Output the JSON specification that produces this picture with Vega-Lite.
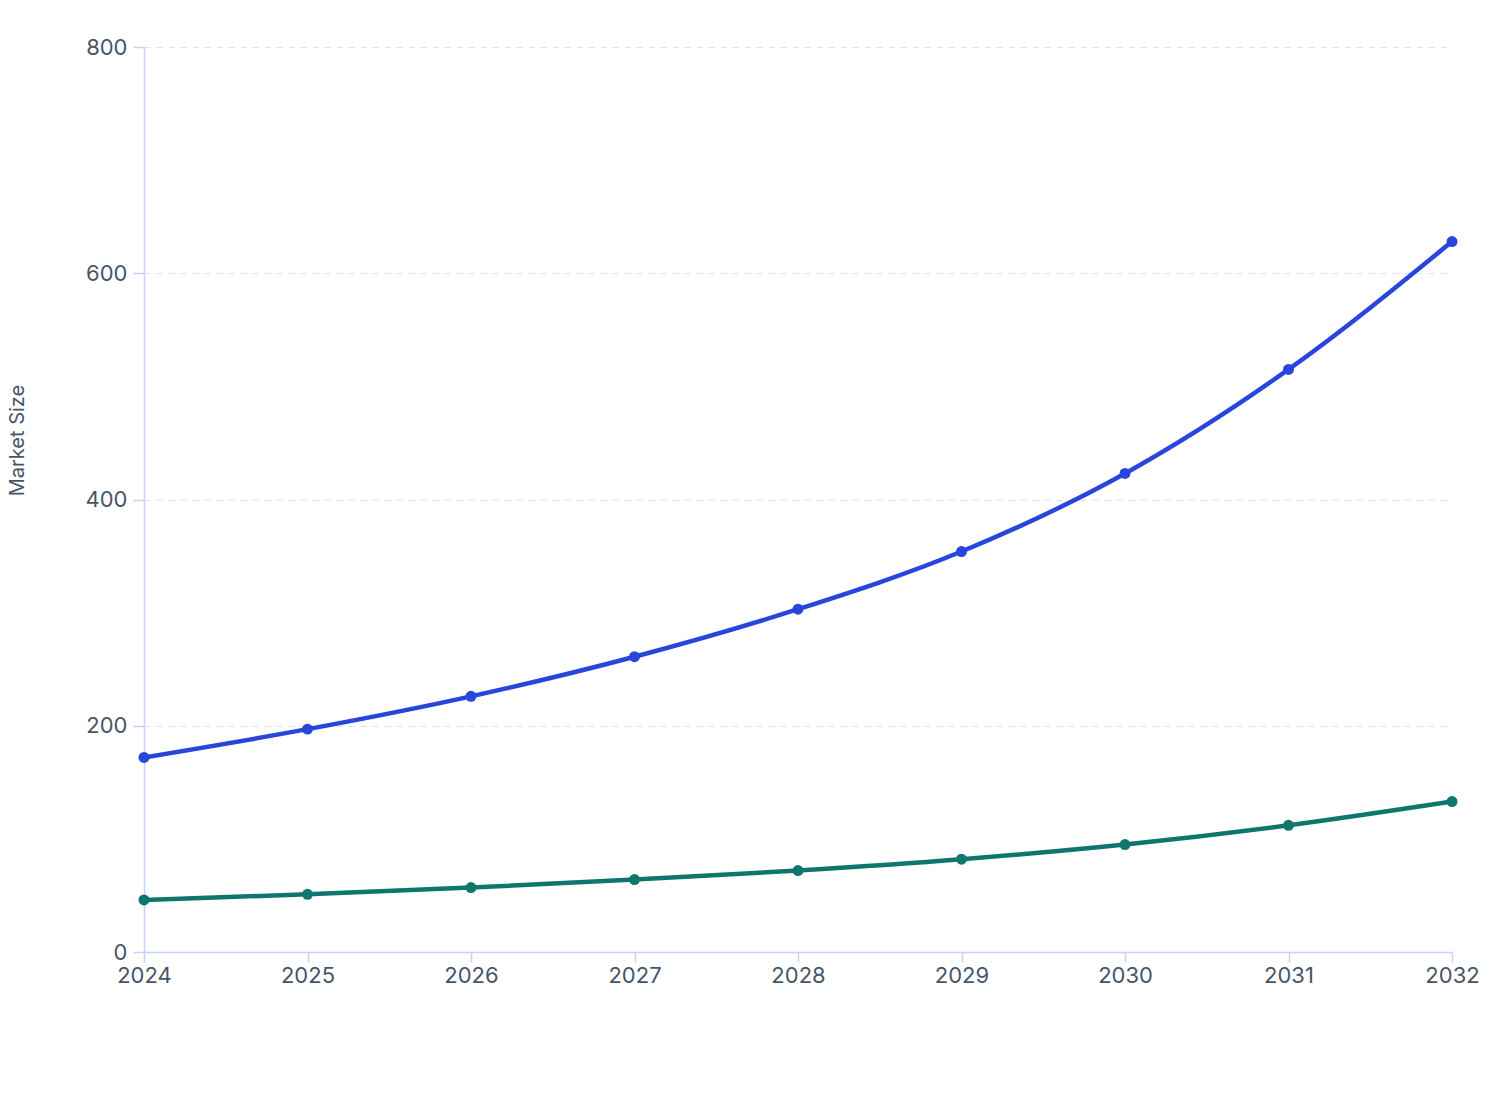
{
  "$schema": "https://vega.github.io/schema/vega-lite/v6.json",
  "autosize": {"type": "none"},
  "width": 1308,
  "height": 905,
  "padding": {"left": 144, "top": 47, "right": 56, "bottom": 168},
  "background": "#ffffff",
  "config": {
    "view": {"stroke": null},
    "font": "Inter",
    "axis": {
      "labelFont": "Inter",
      "titleFont": "Inter",
      "labelColor": "#475569",
      "titleColor": "#475569",
      "domainColor": "#c7d2fe",
      "domainWidth": 1.5,
      "tickColor": "#c7d2fe",
      "tickWidth": 1.5,
      "gridColor": "#dde3ec",
      "gridDash": [6, 6],
      "labelFontSize": 22,
      "titleFontWeight": "normal"
    }
  },
  "data": {
    "values": [
      {"year": 2024, "series": "A", "value": 172},
      {"year": 2025, "series": "A", "value": 197},
      {"year": 2026, "series": "A", "value": 226},
      {"year": 2027, "series": "A", "value": 261},
      {"year": 2028, "series": "A", "value": 303},
      {"year": 2029, "series": "A", "value": 354},
      {"year": 2030, "series": "A", "value": 423},
      {"year": 2031, "series": "A", "value": 515},
      {"year": 2032, "series": "A", "value": 628},
      {"year": 2024, "series": "B", "value": 46},
      {"year": 2025, "series": "B", "value": 51},
      {"year": 2026, "series": "B", "value": 57},
      {"year": 2027, "series": "B", "value": 64},
      {"year": 2028, "series": "B", "value": 72},
      {"year": 2029, "series": "B", "value": 82},
      {"year": 2030, "series": "B", "value": 95},
      {"year": 2031, "series": "B", "value": 112},
      {"year": 2032, "series": "B", "value": 133}
    ]
  },
  "encoding": {
    "x": {
      "field": "year",
      "type": "quantitative",
      "scale": {"domain": [2024, 2032], "nice": false, "zero": false},
      "axis": {"title": null, "values": [2024, 2025, 2026, 2027, 2028, 2029, 2030, 2031, 2032], "format": "d", "grid": false, "tickSize": 10, "labelPadding": 3, "labelFlush": false}
    },
    "y": {
      "field": "value",
      "type": "quantitative",
      "scale": {"domain": [0, 800]},
      "axis": {"title": "Market Size", "values": [0, 200, 400, 600, 800], "grid": true, "tickSize": 11, "labelPadding": 6, "titleFontSize": 20, "titlePadding": 58, "titleY": 393}
    },
    "color": {
      "field": "series",
      "type": "nominal",
      "scale": {"domain": ["A", "B"], "range": ["#2845dc", "#0f766e"]},
      "legend": null
    }
  },
  "layer": [
    {"mark": {"type": "line", "interpolate": "monotone", "strokeWidth": 4.5}},
    {"mark": {"type": "point", "filled": true, "opacity": 1, "size": 120}}
  ]
}
